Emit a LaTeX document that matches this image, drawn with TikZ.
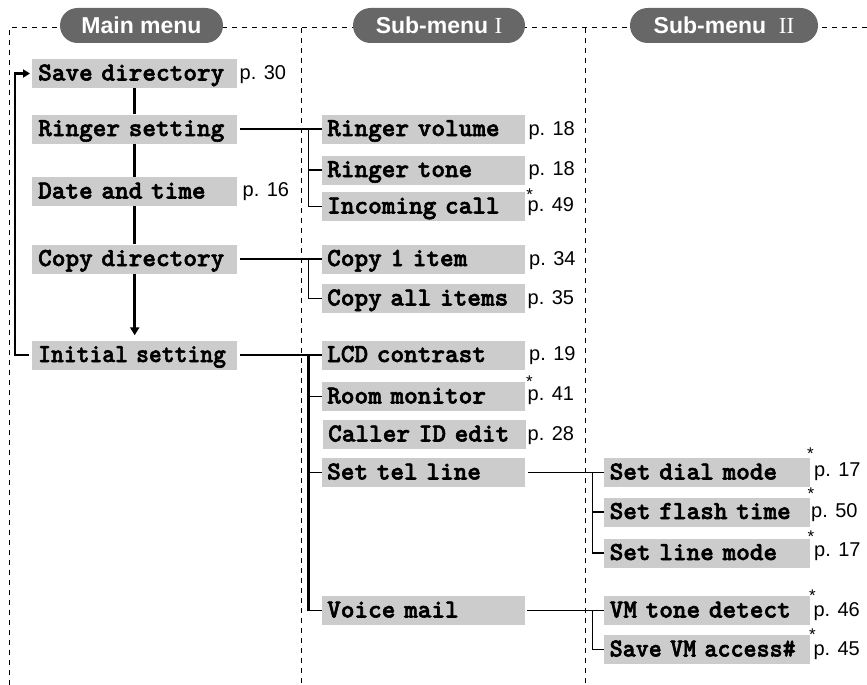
\documentclass[tikz,border=0pt]{standalone}
\usepackage{fontspec}
\usepackage{graphicx}
\setmainfont{Liberation Sans}
\newfontfamily\numfont{Liberation Serif}
\newfontfamily\boxfont{lmmonolt10-bold.otf}[FakeBold=2.2]
\usetikzlibrary{arrows.meta}
\definecolor{boxgrey}{HTML}{CCCCCC}
\definecolor{pillgrey}{HTML}{676767}
\newcommand{\starglyph}{\raisebox{-0.43em}[0.29em][0pt]{*}}
\begin{document}
\begin{tikzpicture}[x=1pt,y=-1pt,
  mbox/.style={fill=boxgrey, anchor=west, minimum height=29pt, text width=193pt,
    inner xsep=6pt, inner ysep=0pt, align=left,
    font=\boxfont\fontsize{26}{27}\selectfont, text height=17pt, text depth=3pt},
  sbox/.style={mbox, inner xsep=5pt},
  tbox/.style={mbox, text width=194pt},
  plabel/.style={anchor=base west, inner sep=0pt, font=\fontsize{20}{22}\selectfont},
  starmark/.style={anchor=center, inner sep=0pt, font=\fontsize{17}{20}\selectfont},
  pill/.style={fill=pillgrey, text=white, rounded corners=17.5pt, minimum height=35pt,
    inner sep=0pt, font=\bfseries\fontsize{23}{24}\selectfont},
  frame/.style={dash pattern=on 5pt off 5pt, line width=1pt},
  thinline/.style={line width=1.3pt},
  thickline/.style={line width=2.5pt},
]
\useasboundingbox (0,0) rectangle (867,685);

% dashed frame
\draw[frame] (9,685) -- (9,28) -- (867,28);
\draw[frame] (301,28) -- (301,685);
\draw[frame] (585,28) -- (585,685);

% titles
\node[pill, minimum width=163pt] (t1) at (141.5,25.5) {Main menu};
\node[pill, minimum width=172pt] (t2) at (439,25.5) {Sub-menu {\numfont\mdseries I}};
\node[pill, minimum width=188pt] (t3) at (724,25.5) {Sub-menu\ \ {\numfont\mdseries II}};

% main menu
\node[mbox] (sd) at (32,73.5) {Save directory};
\node[mbox] (rs) at (32,129) {Ringer setting};
\node[mbox] (dt) at (32,191.5) {Date and time};
\node[mbox] (cd) at (32,259) {Copy directory};
\node[mbox] (is) at (32,355) {\scalebox{0.94}[1]{Initial setting}};

% sub-menu I
\node[sbox] (rv) at (322,129) {Ringer volume};
\node[sbox] (rt) at (322,170) {Ringer tone};
\node[sbox] (ic) at (322,206.5) {Incoming call};
\node[sbox] (c1) at (322,259) {Copy 1 item};
\node[sbox] (ca) at (322,298.5) {Copy all items};
\node[sbox] (lcd) at (322,355) {LCD contrast};
\node[sbox] (rm) at (322,396.5) {Room monitor};
\node[sbox] (cid) at (323,434.5) {Caller ID edit};
\node[sbox] (stl) at (322,472.5) {Set tel line};
\node[sbox] (vm) at (322,610.5) {Voice mail};

% sub-menu II
\node[tbox] (sdm) at (603.5,472.5) {Set dial mode};
\node[tbox] (sft) at (603.5,512) {Set flash time};
\node[tbox] (slm) at (603.5,553) {Set line mode};
\node[tbox] (vmt) at (603.5,610.5) {VM tone detect};
\node[tbox] (svm) at (603.5,649.5) {\scalebox{0.955}[1]{Save VM access\#}};

% page labels
\node[plabel] (p1) at (239.5,80) {p. 30};
\node[plabel] (p2) at (242.5,196.7) {p. 16};
\node[plabel] (p3) at (528.3,135) {p. 18};
\node[plabel] (p4) at (528.3,175) {p. 18};
\node[plabel] (p5) at (527.5,211.7) {p. 49};
\node[plabel] (p6) at (529,265) {p. 34};
\node[plabel] (p7) at (527.5,304.5) {p. 35};
\node[plabel] (p8) at (529,360) {p. 19};
\node[plabel] (p9) at (527.5,400.7) {p. 41};
\node[plabel] (p10) at (527.5,440) {p. 28};
\node[plabel] (p11) at (814,476.7) {p. 17};
\node[plabel] (p12) at (811,517) {p. 50};
\node[plabel] (p13) at (814,556.7) {p. 17};
\node[plabel] (p14) at (813.3,616.7) {p. 46};
\node[plabel] (p15) at (813.3,655) {p. 45};

% asterisks
\node[starmark] (s1) at (529.7,190.5) {\starglyph};
\node[starmark] (s2) at (529.5,378) {\starglyph};
\node[starmark] (s3) at (810.3,450) {\starglyph};
\node[starmark] (s4) at (810.8,490) {\starglyph};
\node[starmark] (s5) at (810.8,532.5) {\starglyph};
\node[starmark] (s6) at (812.3,591.5) {\starglyph};
\node[starmark] (s7) at (812.3,630.5) {\starglyph};

% main vertical chain
\draw[thickline] (sd.south) -- (rs.north);
\draw[thickline] (rs.south) -- (dt.north);
\draw[thickline] (dt.south) -- (cd.north);
\draw[thickline, -{Triangle[length=8pt,width=9pt]}, shorten >=5pt] (cd.south) -- (is.north);

% loop back
\coordinate (loopx) at (15,0);
\draw[thickline, -{Triangle[length=7pt,width=8pt]}, shorten <=3pt, shorten >=2pt]
  (is.west) -- (is.west -| loopx) |- (sd.west);

% sub-menu I trunks
\coordinate (ta) at (308.3,0);
\draw[thinline, shorten <=2.5pt] (rs.east) -- (rv.west);
\draw[thinline] (rs.east -| ta) |- (ic.west);
\draw[thinline] (rt.west -| ta) -- (rt.west);

\draw[thinline, shorten <=2.5pt] (cd.east) -- (c1.west);
\draw[thinline] (cd.east -| ta) |- (ca.west);

\draw[thinline, shorten <=2.5pt] (is.east) -- (lcd.west);
\draw[thickline] (lcd.west -| ta) -- (vm.west -| ta);
\draw[thinline] (vm.west -| ta) -- (vm.west);
\draw[thinline] (rm.west -| ta) -- (rm.west);
\draw[thinline] (stl.west -| ta) -- (stl.west);

% sub-menu II trunks
\coordinate (tb) at (592.7,0);
\draw[thinline, shorten <=3pt] (stl.east) -- (sdm.west);
\draw[thinline] (stl.east -| tb) |- (slm.west);
\draw[thinline] (sft.west -| tb) -- (sft.west);

\draw[thinline, shorten <=2pt] (vm.east) -- (vmt.west);
\draw[thinline] (vm.east -| tb) |- (svm.west);
\end{tikzpicture}
\end{document}
